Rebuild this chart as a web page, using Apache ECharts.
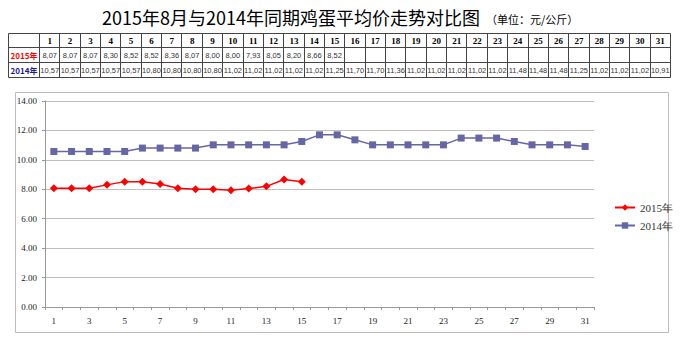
<!DOCTYPE html>
<html><head><meta charset="utf-8">
<script src="https://cdn.jsdelivr.net/npm/echarts@6/dist/echarts.min.js"></script>
<style>html,body{margin:0;padding:0;background:#fff;}#c{width:680px;height:340px;}</style>
</head><body><div id="c"></div>
<script>
const days = [1,2,3,4,5,6,7,8,9,10,11,12,13,14,15,16,17,18,19,20,21,22,23,24,25,26,27,28,29,30,31];
const price2015 = [8.07,8.07,8.07,8.30,8.52,8.52,8.36,8.07,8.00,8.00,7.93,8.05,8.20,8.66,8.52];
const price2014 = [10.57,10.57,10.57,10.57,10.57,10.80,10.80,10.80,10.80,11.02,11.02,11.02,11.02,11.02,11.25,11.70,11.70,11.36,11.02,11.02,11.02,11.02,11.02,11.48,11.48,11.48,11.25,11.02,11.02,11.02,10.91];
const seriesNames = ['2015年','2014年'];
const yTicks = [0,2,4,6,8,10,12,14];
const titleText = '2015年8月与2014年同期鸡蛋平均价走势对比图';
const unitText = '（单位：元/公斤）';

const chart = echarts.init(document.getElementById('c'), null, {renderer:'svg'});

// table built from the arrays
const tX0 = 8, labW = 31, colW = (670 - 39) / 31;
const rowY = [33, 47, 62, 77];
const g = [];
const fmt = v => v.toFixed(2).replace('.', ',');
const border = {stroke:'#444', lineWidth:1};
g.push({type:'rect', shape:{x:tX0+0.5, y:rowY[0]+0.5, width:670-tX0, height:rowY[3]-rowY[0]}, style:{fill:'none', stroke:'#444', lineWidth:1}, silent:true});
for (let r=1;r<3;r++) g.push({type:'line', shape:{x1:tX0, y1:rowY[r]+0.5, x2:670, y2:rowY[r]+0.5}, style:border, silent:true});
for (let i=0;i<days.length;i++){
  const x = Math.round(tX0+labW+i*colW)+0.5;
  g.push({type:'line', shape:{x1:x, y1:rowY[0], x2:x, y2:rowY[3]}, style:border, silent:true});
}
const cellText = (cx, cy, txt, opts) => g.push({type:'text', x:cx, y:cy, style:Object.assign({text:txt, align:'center', verticalAlign:'middle', fontSize:8, fontFamily:'Liberation Sans', fill:'#222'}, opts||{}), silent:true});
const labCx = tX0 + labW/2 + 0.5;
cellText(labCx, (rowY[1]+rowY[2])/2+0.5, seriesNames[0], {fill:'#ff0000', fontWeight:'bold', fontFamily:'Noto Sans CJK SC', fontSize:8});
cellText(labCx, (rowY[2]+rowY[3])/2+0.5, seriesNames[1], {fill:'#1a1a9a', fontWeight:'bold', fontFamily:'Noto Sans CJK SC', fontSize:8});
days.forEach((d,i)=>{
  const cx = tX0+labW+(i+0.5)*colW + 0.5;
  cellText(cx, (rowY[0]+rowY[1])/2+0.5, String(d), {fontWeight:'bold', fontFamily:'Liberation Serif', fontSize:9, fill:'#000'});
  if (i < price2015.length) cellText(cx, (rowY[1]+rowY[2])/2+0.5, fmt(price2015[i]), {fontSize:7.5, fill:'#333'});
  cellText(cx, (rowY[2]+rowY[3])/2+0.5, fmt(price2014[i]), {fontSize:7.5, fill:'#333'});
});
// title
g.push({type:'text', x:102, y:17, style:{text:titleText, fontSize:18, fontFamily:'Noto Sans CJK SC', fill:'#000', verticalAlign:'middle', align:'left'}, silent:true});
g.push({type:'text', x:486, y:19, style:{text:unitText, fontSize:11, fontFamily:'Noto Sans CJK SC', fill:'#000', verticalAlign:'middle', align:'left'}, silent:true});
// chart frame
g.push({type:'rect', shape:{x:15.5, y:92.5, width:653, height:240}, style:{fill:'none', stroke:'#bdbdbd', lineWidth:1}, silent:true, z:-1});

const option = {
  animation:false,
  backgroundColor:'#fff',
  graphic: g,
  grid:{left:45, right:86, top:101, bottom:33},
  legend:{
    orient:'vertical', left:609, top:197, itemWidth:20, itemHeight:8, itemGap:7,
    textStyle:{fontSize:11, fontFamily:'Liberation Serif', color:'#333'},
    data: seriesNames
  },
  xAxis:{
    type:'category', data:days, boundaryGap:true,
    axisLine:{lineStyle:{color:'#999'}},
    axisTick:{show:true, interval:0, length:3, lineStyle:{color:'#999'}},
    axisLabel:{interval:1, fontSize:9, fontFamily:'Liberation Serif', color:'#222', margin:9}
  },
  yAxis:{
    type:'value', min:yTicks[0], max:yTicks[yTicks.length-1], interval:2,
    axisLine:{show:true, lineStyle:{color:'#999'}},
    axisTick:{show:true, length:3, lineStyle:{color:'#999'}},
    splitLine:{lineStyle:{color:'#c0c0c0'}},
    axisLabel:{formatter:v=>v.toFixed(2), fontSize:9, fontFamily:'Liberation Serif', color:'#222', margin:8}
  },
  series:[
    {name:seriesNames[0], type:'line', data:price2015, symbol:'diamond', symbolSize:8,
     itemStyle:{color:'#ff0000'}, lineStyle:{color:'#ff0000', width:1.5}},
    {name:seriesNames[1], type:'line', data:price2014, symbol:'rect', symbolSize:7,
     itemStyle:{color:'#6666a6'}, lineStyle:{color:'#6666a6', width:1.5}}
  ]
};
chart.setOption(option);
</script></body></html>
